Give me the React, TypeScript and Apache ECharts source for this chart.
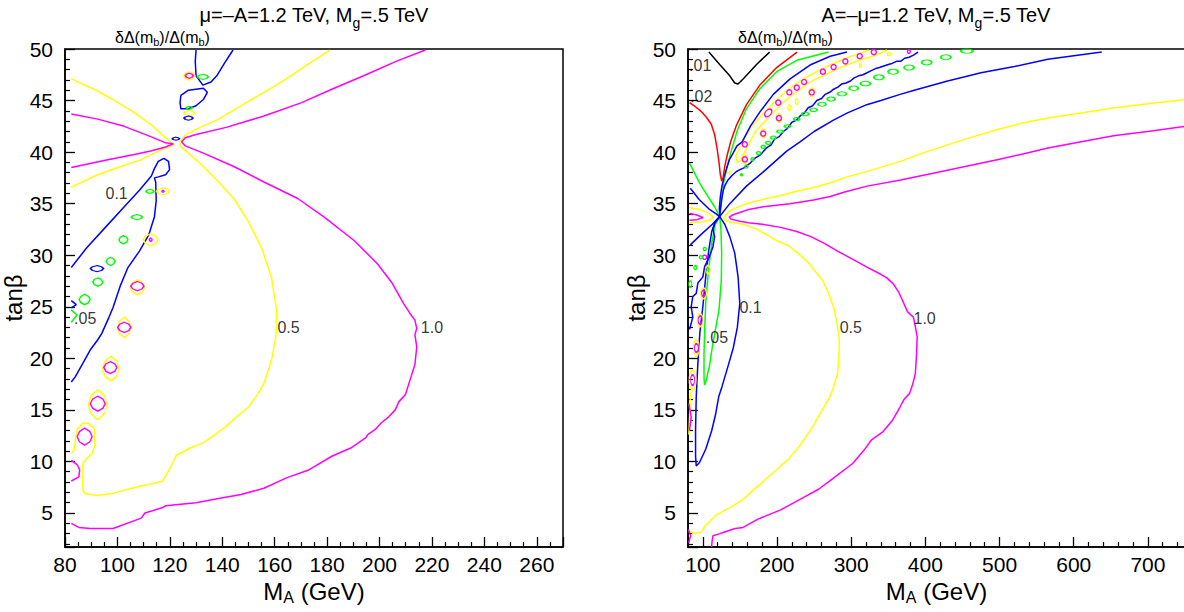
import React, { useEffect, useRef } from "react";
import * as echarts from "echarts";

const FONT = "'Liberation Sans', Arial, Helvetica, sans-serif";

// ---------- axes ----------
const Y_MIN = 1.7;
const Y_MAX = 50;
const LX_MIN = 80;
const LX_MAX = 270;
const RX_MIN = 80;
const RX_MAX = 750;

// ---------- texts ----------
const LEFT_TITLE = "μ=–A=1.2 TeV, M{s|g}=.5 TeV";
const RIGHT_TITLE = "A=–μ=1.2 TeV, M{s|g}=.5 TeV";
const Z_TITLE = "δΔ(m{s|b})/Δ(m{s|b})";
const X_NAME = "M{s|A} (GeV)";
const Y_NAME = "tanβ";

// ---------- LEFT PANEL contours [MA, tanβ] ----------
const L_YELLOW_LEFT = [[82.4,47.1],[91.1,46.1],[98.3,45.1],[105.5,44.0],[112.7,42.7],[117.0,41.7],[120.6,40.9],[121.6,40.8],[120.6,40.6],[115.6,40.1],[108.4,39.2],[101.2,38.6],[92.5,37.8],[82.4,36.6]];
const L_YELLOW_05 = [[181.1,49.9],[173.2,48.6],[164.5,47.1],[155.9,45.8],[147.2,44.5],[138.6,43.2],[130.0,42.2],[125.6,41.6],[123.9,41.0],[123.9,40.6],[127.1,39.9],[132.8,38.6],[138.6,37.1],[144.4,35.5],[150.1,33.2],[155.2,30.6],[158.8,27.8],[160.6,24.9],[160.9,23.1],[160.2,21.8],[159.1,20.2],[158.0,19.2],[155.9,17.6],[153.7,16.6],[150.1,15.3],[145.8,14.4],[141.5,13.4],[137.2,12.6],[132.8,11.8],[127.8,11.3],[122.5,10.6],[120.6,9.6],[117.3,8.1],[112.7,7.8],[106.9,7.5],[98.3,6.9],[92.5,6.7],[87.5,6.9],[86.8,7.3],[86.8,9.8],[87.9,10.2],[90.4,10.8],[91.4,11.6],[91.1,13.2],[88.9,13.7],[86.8,13.7],[84.6,13.1],[83.9,12.1],[83.6,11.1],[82.4,10.8]];
const L_MAGENTA_LEFT = [[82.4,43.7],[92.5,43.2],[102.6,42.5],[112.7,41.5],[118.4,40.9],[121.3,40.8],[118.4,40.5],[112.7,40.1],[106.9,39.8],[95.4,39.2],[82.4,38.5]];
const L_MAGENTA_10 = [[217.5,49.9],[206.3,48.8],[194.8,47.5],[181.8,46.1],[170.3,44.8],[155.9,43.5],[141.5,42.4],[130.0,41.7],[125.9,41.4],[124.5,41.0],[125.9,40.6],[132.8,39.9],[144.4,38.6],[155.9,37.1],[168.8,35.5],[178.9,33.7],[190.4,31.4],[199.1,29.2],[204.8,27.3],[209.2,25.3],[211.5,24.4],[213.5,23.7],[214.2,22.9],[213.5,22.3],[214.2,21.1],[213.5,19.4],[212.0,18.2],[209.9,16.5],[207.4,15.8],[206.0,15.0],[203.4,14.3],[200.5,13.7],[198.4,13.1],[195.5,12.6],[194.8,12.3],[189.0,11.3],[181.8,10.5],[173.2,9.2],[164.5,8.4],[155.9,7.4],[147.2,6.8],[138.6,6.4],[130.0,6.0],[118.4,5.7],[117.0,5.5],[110.5,5.0],[109.1,4.5],[98.3,3.5],[89.6,3.5],[85.3,3.6],[82.4,4.0]];
const L_MAGENTA_EDGE = [[82.4,10.1],[84.6,9.7],[85.6,9.2],[85.3,8.5],[82.4,8.1]];
const L_BLUE_TOP = [[130.0,49.9],[129.7,48.8],[130.0,47.4],[132.6,46.5],[135.7,46.8],[137.9,47.4],[140.8,48.6],[144.1,49.9]];
const L_BLUE_LOOP = [[124.2,45.5],[127.1,46.0],[132.8,46.2],[134.3,45.8],[132.8,45.1],[130.0,44.5],[127.1,44.2],[124.2,44.2],[123.9,44.8],[124.2,45.5]];
const L_BLUE_01 = [[82.4,28.8],[88.2,30.7],[95.4,32.7],[102.6,34.7],[108.4,36.3],[112.0,37.4],[113.0,37.7],[114.1,38.4],[115.6,39.1],[117.7,39.4],[119.5,39.1],[119.9,38.3],[118.4,37.8],[115.6,37.6],[114.1,37.5],[114.6,37.1],[114.8,35.3],[114.1,33.7],[112.0,32.0],[108.4,30.4],[104.0,28.8],[101.2,27.1],[98.3,24.9],[96.8,24.0],[94.0,22.4],[92.5,21.8],[89.6,20.8],[86.8,19.5],[83.9,18.2],[82.4,17.7]];
const L_BLUE_EDGE = [[82.4,25.6],[84.3,25.2],[82.4,24.9]];
const L_GREEN_EDGE = [[82.4,24.7],[84.6,24.2],[82.4,23.5]];

// small closed contours: [MA, tanβ, width(GeV), height(tanβ)]
const L_MAGENTA_ISLANDS = [[87.5,12.4,5.7,1.65],[92.5,15.6,5.7,1.45],[97.3,19.1,5.0,1.15],[102.6,23.0,5.0,1.0],[107.6,27.0,5.0,0.9],[112.7,31.5,1.1,0.3],[117.4,36.2,0.8,0.2],[127.4,47.4,3.0,0.5]];
const L_YELLOW_ISLANDS = [[92.5,15.5,7.3,2.9],[97.5,19.0,6.5,2.4],[102.6,23.0,5.3,1.95],[107.6,26.9,5.7,1.45],[112.7,31.5,5.7,1.15],[117.4,36.2,5.0,0.7],[127.4,47.4,4.2,0.8],[127.4,43.8,4.2,0.5]];
const L_GREEN_ISLANDS = [[132.6,47.3,4.2,0.5],[127.4,44.3,2.3,0.3],[112.4,36.2,3.0,0.4],[107.4,33.7,4.2,0.5],[102.3,31.5,3.4,0.8],[97.4,29.4,3.4,0.8],[92.5,27.4,3.8,0.8],[87.5,25.7,4.2,1.0]];
const L_BLUE_ISLANDS = [[127.1,43.3,3.4,0.4],[122.3,41.3,2.7,0.3],[92.2,28.7,5.0,0.6]];

const L_LABELS = [["0.1",99.7,35.95],[".05",87.7,23.9],["0.5",165.3,23.0],["1.0",220.0,23.0]];

// ---------- RIGHT PANEL contours ----------
const R_BLACK = [[108.2,49.7],[122.7,48.5],[136.3,47.4],[143.0,46.7],[147.5,46.6],[154.3,47.1],[172.4,48.5],[190.0,49.7]];
const R_RED = [[82.0,44.8],[90.0,44.4],[97.0,44.0],[104.6,43.4],[111.4,42.7],[115.9,41.7],[119.1,40.4],[121.8,39.0],[123.6,37.8],[125.5,37.2],[127.3,37.5],[129.5,38.6],[132.5,39.6],[137.5,41.0],[145.3,42.6],[158.8,44.6],[176.9,46.5],[199.5,48.2],[227.0,49.7]];
const R_GREEN = [[82.1,38.9],[86.5,38.3],[95.6,37.0],[106.9,35.7],[115.9,34.7],[122.7,33.75],[124.4,32.5],[125.4,30.2],[124.9,27.6],[121.8,24.7],[117.3,22.9],[113.0,21.2],[109.0,19.3],[105.0,18.0],[102.4,17.4],[101.6,18.0],[101.6,20.5],[102.6,23.0],[104.0,25.5],[107.8,28.6],[112.3,31.3],[116.8,33.0],[122.7,33.75],[125.0,35.0],[128.0,37.0],[132.8,38.6],[138.5,40.15],[146.4,42.1],[158.8,44.2],[177.0,46.15],[199.5,47.8],[226.6,48.9],[269.5,49.7]];
const R_BLUE_01 = [[83.1,36.5],[95.0,35.4],[108.0,34.5],[117.9,34.0],[122.7,33.75],[129.5,33.0],[136.3,31.8],[143.0,30.2],[147.5,27.9],[149.8,25.3],[146.5,23.0],[141.0,21.0],[133.0,19.0],[126.0,17.3],[121.5,16.3],[117.0,14.5],[112.0,13.0],[104.0,11.2],[95.5,9.9],[91.1,9.55],[90.2,10.5],[90.2,13.0],[91.1,16.3],[93.3,19.5],[96.0,22.5],[100.0,25.0],[104.0,28.0],[108.0,30.5],[112.0,32.3],[117.0,33.3],[122.7,33.75],[136.3,35.0],[158.8,36.7],[185.0,38.3],[213.0,40.1],[231.0,41.0],[250.0,42.0],[276.0,43.1],[295.0,43.8],[321.0,44.6],[340.0,45.0],[366.0,45.6],[385.0,46.0],[430.0,46.9],[475.0,47.7],[520.0,48.3],[565.0,49.0],[637.8,49.7]];
const R_BLUE_2 = [[83.1,31.0],[97.4,32.0],[112.8,33.0],[122.7,33.75],[122.3,34.6],[123.5,35.6],[125.5,36.6],[128.5,37.6],[132.0,38.4],[136.0,39.3],[140.8,39.9],[146.0,40.6],[153.0,41.0],[164.0,42.5],[177.0,43.9],[195.0,45.6],[217.6,47.1],[246.0,48.5],[271.7,49.3],[294.3,49.7]];
const R_BLUE_3 = [[122.7,33.75],[115.9,33.1],[113.6,32.5],[115.9,31.8],[113.6,30.8],[109.1,29.9],[102.4,28.9],[100.1,27.9],[93.3,27.3],[91.1,26.3],[86.5,26.0],[84.3,25.0],[86.5,24.0],[82.0,22.8]];
const R_BLUE_WIG = [[122.7,33.9],[124.9,35.2],[127.2,36.2],[130.0,36.8],[134.0,37.3],[139.0,37.7],[145.0,38.1],[150.0,38.3],[156.0,38.5],[163.3,38.9],[170.0,39.4],[177.0,39.7],[185.9,40.4],[192.0,40.7],[197.0,41.3],[203.0,41.5],[208.5,42.0],[214.0,42.3],[220.0,42.9],[226.0,43.1],[231.1,43.5],[237.0,43.8],[242.0,44.3],[248.0,44.5],[253.7,45.0],[260.0,45.2],[265.0,45.6],[271.0,45.8],[276.3,46.1],[282.0,46.3],[287.0,46.6],[293.0,46.7],[298.9,46.9],[304.0,47.2],[310.0,47.4],[316.0,47.5],[321.4,47.7],[327.0,47.9],[333.0,48.1],[338.0,48.2],[344.0,48.35],[350.0,48.5],[355.0,48.6],[361.0,48.8],[366.6,48.8],[372.0,49.1],[378.0,49.2],[384.0,49.4],[390.1,49.7]];
const R_YELLOW_BAND = [[323.7,49.9],[308.3,49.5],[288.9,49.0],[273.1,48.5],[258.7,48.0],[246.0,47.5],[233.4,47.0],[223.4,46.5],[213.5,46.0],[198.6,45.0],[185.0,44.0],[164.7,42.4],[153.4,41.0],[144.4,39.7],[146.5,39.0],[150.7,39.2],[159.7,40.5],[171.0,42.0],[191.4,43.6],[204.9,44.6],[219.8,45.5],[229.7,46.0],[239.7,46.6],[252.3,47.1],[265.0,47.5],[279.4,48.0],[295.2,48.5],[314.7,49.0],[333.6,49.4],[348.5,49.9]];
const R_YELLOW_05 = [[750.0,45.1],[700.0,44.7],[655.7,44.3],[610.0,43.8],[565.3,43.3],[530.0,42.8],[497.6,42.2],[465.0,41.5],[429.8,40.7],[400.0,40.0],[370.0,39.2],[330.0,38.3],[294.4,37.6],[271.6,37.0],[245.0,36.5],[226.5,36.2],[205.0,35.8],[185.9,35.5],[170.0,35.2],[158.8,35.0],[145.0,34.6],[136.3,34.3],[129.5,33.8],[127.5,33.6],[130.0,33.35],[138.0,33.2],[155.0,33.0],[170.0,32.6],[186.0,32.0],[200.0,31.4],[216.0,30.9],[228.0,30.2],[242.0,29.3],[252.0,28.4],[262.0,27.5],[270.0,26.2],[276.5,24.9],[281.6,23.1],[284.1,21.8],[283.5,20.2],[281.6,18.5],[276.5,17.3],[271.4,16.3],[261.1,15.0],[245.8,13.1],[230.4,11.5],[215.1,10.2],[194.6,8.9],[174.2,7.6],[153.7,6.3],[138.4,5.6],[117.9,4.8],[102.6,3.7],[97.4,3.1],[87.2,3.0],[81.1,3.3]];
const R_MAGENTA_10 = [[750.0,42.5],[700.0,42.0],[655.7,41.6],[610.0,41.0],[565.3,40.4],[530.0,39.8],[500.0,39.3],[460.0,38.7],[420.0,38.1],[366.6,37.3],[321.4,36.7],[290.0,36.1],[271.8,35.7],[249.2,35.35],[217.5,35.0],[181.4,34.7],[160.0,34.4],[149.8,34.15],[140.0,33.9],[135.5,33.7],[138.0,33.5],[150.0,33.3],[161.0,33.15],[180.0,33.0],[204.9,32.7],[226.6,32.3],[245.8,31.8],[265.0,31.1],[281.6,30.4],[307.2,29.4],[322.5,28.8],[336.0,28.3],[348.1,27.8],[357.0,27.2],[363.4,26.5],[368.0,25.8],[376.0,24.5],[383.9,24.0],[386.4,23.1],[389.0,22.1],[388.0,20.2],[386.4,18.5],[383.0,17.5],[378.8,16.6],[371.1,16.0],[366.0,15.3],[355.8,14.0],[343.0,12.9],[327.6,12.1],[317.4,11.1],[302.0,9.8],[276.5,8.4],[256.0,7.3],[230.4,6.3],[204.9,5.3],[174.2,4.4],[154.3,3.6],[143.5,3.5],[127.2,3.1],[123.0,3.0],[113.8,2.8],[112.5,2.3],[111.8,1.7]];
const R_YELLOW_LEFT = [[82.0,34.6],[95.6,34.45],[104.0,34.2],[109.1,34.0],[114.5,33.7],[109.1,33.4],[100.0,33.25],[92.0,33.2],[82.0,33.15]];
const R_MAGENTA_LEFT = [[82.0,34.05],[92.0,33.9],[100.5,33.65],[92.0,33.45],[82.0,33.4]];
const R_MAGENTA_EDGE1 = [[81.1,15.6],[84.3,14.3],[82.0,13.0]];
const R_MAGENTA_EDGE2 = [[80.5,3.4],[83.5,2.8],[81.0,2.1]];
const R_YELLOW_EDGE = [[81.2,12.6],[82.3,14.5],[83.0,16.0],[83.6,16.7]];

const R_MAGENTA_RINGS = [[102.4,29.8,5.4,0.4],[101.0,26.3,5.4,0.6],[96.4,23.7,5.4,0.8],[91.3,21.0,5.4,0.8],[86.2,17.9,5.4,1.0],[156.6,40.75,6.8,0.5],[201.7,44.8,6.8,0.5],[216.6,45.8,6.8,0.5],[226.6,46.25,6.8,0.5],[236.5,46.8,6.8,0.5],[261.8,47.8,6.8,0.5],[276.3,48.25,6.8,0.5],[292.1,48.8,6.8,0.5],[311.5,49.3,6.8,0.5],[330.5,49.7,6.8,0.5],[156.6,39.3,6.8,0.5],[181.4,41.8,6.8,0.5],[202.6,43.3,6.8,0.5],[246.9,45.8,6.8,0.5],[377.7,49.75,4.0,0.35]];
const R_MAGENTA_OVAL = [[188.2,43.8,12.0,0.55]];
const R_YELLOW_RINGS = [[101.0,26.3,8.0,1.0],[96.4,23.7,8.0,1.2],[91.3,21.0,8.0,1.55],[86.2,17.9,9.5,1.9],[106.9,28.6,5.4,0.8],[156.6,39.3,8.0,0.8],[181.4,41.8,8.0,0.8],[202.6,43.3,8.0,0.8],[246.9,45.8,8.0,0.8],[137.0,38.0,3.0,0.3],[216.6,44.3,4.0,0.5],[226.6,44.9,4.0,0.5],[312.4,48.4,3.0,0.3],[351.0,49.5,4.0,0.3]];
const R_GREEN_DOTS = [[152.1,37.8,2.7,0.2],[158.8,38.6,4.0,0.3],[167.0,39.3,4.0,0.3],[175.1,39.9,5.4,0.3],[181.4,40.5,5.4,0.3],[188.2,40.9,6.8,0.3],[195.0,41.4,6.8,0.3],[204.0,42.0,8.1,0.3],[214.0,42.5,8.1,0.3],[226.6,43.2,8.1,0.3],[237.9,43.7,9.5,0.34],[249.2,44.1,9.5,0.34],[260.5,44.65,10.8,0.39],[273.0,45.15,10.8,0.39],[287.6,45.65,12.2,0.39],[303.4,46.2,12.2,0.44],[319.2,46.65,13.5,0.44],[337.3,47.25,13.5,0.48],[356.5,47.8,13.5,0.48],[378.0,48.2,13.5,0.48],[401.8,48.7,13.5,0.48],[427.6,49.2,13.5,0.48],[456.0,49.8,16.0,0.4],[83.1,27.2,4.0,0.6],[89.8,28.8,4.0,0.4],[97.4,29.8,4.0,0.3],[102.6,30.6,4.0,0.3]];

const R_LABELS = [[".01",96.5,48.4],[".02",97.9,45.4],["0.1",164.3,24.95],[".05",119.0,22.0],["0.5",299.5,23.0],["1.0",399.0,23.9]];

// ---------- layout ----------
const GRID_TOP = 49;
const GRID_H = 498;
const GRIDS = [
  { left: 65, width: 498 },
  { left: 688, width: 497 },
];
const KX = [GRIDS[0].width / (LX_MAX - LX_MIN), GRIDS[1].width / (RX_MAX - RX_MIN)];
const KY = GRID_H / (Y_MAX - Y_MIN);

const C = {
  magenta: "#ff00ff",
  yellow: "#ffff00",
  blue: "#0000ff",
  green: "#00ff00",
  red: "#ff0000",
  black: "#000000",
};

const HEX = "path://M0,-10L7,-6L10,0L7,6L0,10L-7,6L-10,0L-7,-6Z";

function lineS(data: number[][], color: string, g: number) {
  return {
    type: "line",
    data,
    xAxisIndex: g,
    yAxisIndex: g,
    symbol: "none",
    showSymbol: false,
    smooth: false,
    clip: true,
    silent: true,
    lineStyle: { color, width: 1.5 },
    z: 3,
  };
}

function islandS(data: number[][], color: string, g: number, symbol: string, rotate = 0) {
  return {
    type: "scatter",
    data,
    xAxisIndex: g,
    yAxisIndex: g,
    symbol,
    symbolRotate: rotate,
    symbolSize: (v: number[]) => [Math.max(1.5, v[2] * KX[g]), Math.max(1.5, v[3] * KY)],
    itemStyle: { color: "rgba(0,0,0,0)", borderColor: color, borderWidth: 1.4, opacity: 1 },
    silent: true,
    clip: true,
    z: 4,
  };
}

function labelS(items: (string | number)[][], g: number) {
  return {
    type: "scatter",
    xAxisIndex: g,
    yAxisIndex: g,
    symbolSize: 1,
    itemStyle: { color: "rgba(0,0,0,0)" },
    silent: true,
    z: 6,
    data: items.map((it) => ({ name: it[0], value: [it[1], it[2]] })),
    label: {
      show: true,
      position: "inside",
      formatter: "{b}",
      fontSize: 16,
      color: "#000",
      fontFamily: FONT,
    },
  };
}

function xAxisOf(g: number, min: number, max: number, split: number, minorSplit: number, fmt: (v: number) => string) {
  return {
    type: "value",
    gridIndex: g,
    min,
    max,
    splitNumber: split,
    name: X_NAME,
    nameLocation: "middle",
    nameGap: 29,
    nameTextStyle: {
      fontSize: 24,
      color: "#000",
      fontFamily: FONT,
      rich: { s: { fontSize: 16, color: "#000", fontFamily: FONT, padding: [12, 0, 0, 0] } },
    },
    axisLine: { show: true, onZero: false, lineStyle: { color: "#000", width: 1.5 } },
    axisTick: { show: true, inside: true, length: 10, lineStyle: { color: "#000", width: 1.3 } },
    minorTick: { show: true, splitNumber: minorSplit, length: 5, lineStyle: { color: "#000", width: 1.2 } },
    axisLabel: { show: true, color: "#000", fontSize: 21, fontFamily: FONT, margin: 7, formatter: fmt },
    splitLine: { show: false },
    minorSplitLine: { show: false },
  };
}

function yAxisOf(g: number) {
  return {
    type: "value",
    gridIndex: g,
    min: Y_MIN,
    max: Y_MAX,
    splitNumber: 10,
    name: Y_NAME,
    nameLocation: "middle",
    nameGap: 33,
    nameTextStyle: { fontSize: 24, color: "#000", fontFamily: FONT },
    axisLine: { show: true, onZero: false, lineStyle: { color: "#000", width: 1.5 } },
    axisTick: { show: true, inside: true, length: 10, lineStyle: { color: "#000", width: 1.3 } },
    minorTick: { show: true, splitNumber: 5, length: 5, lineStyle: { color: "#000", width: 1.2 } },
    axisLabel: {
      show: true,
      color: "#000",
      fontSize: 21,
      fontFamily: FONT,
      margin: 12,
      formatter: (v: number) => (Math.abs(v % 5) < 1e-9 ? String(v) : ""),
    },
    splitLine: { show: false },
    minorSplitLine: { show: false },
  };
}

function titleText(x: number, y: number, text: string, size: number, sub: number, pad: number, align: string) {
  return {
    type: "text",
    x,
    y,
    silent: true,
    style: {
      text,
      fill: "#000",
      fontSize: size,
      fontFamily: FONT,
      align,
      verticalAlign: "middle",
      rich: {
        s: { fontSize: sub, fontFamily: FONT, fill: "#000", color: "#000", padding: [pad, 0, 0, 0] },
      },
    },
  };
}

export default function App() {
  const ref = useRef<HTMLDivElement>(null);

  useEffect(() => {
    if (!ref.current) return;
    const chart = echarts.init(ref.current, null, { renderer: "svg" });

    const option: any = {
      animation: false,
      backgroundColor: "#ffffff",
      grid: GRIDS.map((g) => ({
        left: g.left,
        top: GRID_TOP,
        width: g.width,
        height: GRID_H,
        show: true,
        borderColor: "#000",
        borderWidth: 1.5,
        backgroundColor: "transparent",
        containLabel: false,
        outerBoundsMode: "none",
      })),
      xAxis: [
        xAxisOf(0, LX_MIN, LX_MAX, 9, 4, (v: number) => (v % 20 === 0 && v <= 260 ? String(v) : "")),
        xAxisOf(1, RX_MIN, RX_MAX, 7, 5, (v: number) => (v % 100 === 0 ? String(v) : "")),
      ],
      yAxis: [yAxisOf(0), yAxisOf(1)],
      graphic: [
        titleText(314, 15, LEFT_TITLE, 20, 14, 16, "center"),
        titleText(936, 15, RIGHT_TITLE, 20, 14, 16, "center"),
        titleText(115, 37, Z_TITLE, 16, 11, 9, "left"),
        titleText(738, 37, Z_TITLE, 16, 11, 9, "left"),
      ],
      series: [
        // left panel
        lineS(L_YELLOW_LEFT, C.yellow, 0),
        lineS(L_YELLOW_05, C.yellow, 0),
        lineS(L_MAGENTA_LEFT, C.magenta, 0),
        lineS(L_MAGENTA_10, C.magenta, 0),
        lineS(L_MAGENTA_EDGE, C.magenta, 0),
        lineS(L_BLUE_TOP, C.blue, 0),
        lineS(L_BLUE_LOOP, C.blue, 0),
        lineS(L_BLUE_01, C.blue, 0),
        lineS(L_BLUE_EDGE, C.blue, 0),
        lineS(L_GREEN_EDGE, C.green, 0),
        islandS(L_YELLOW_ISLANDS, C.yellow, 0, HEX),
        islandS(L_MAGENTA_ISLANDS, C.magenta, 0, HEX),
        islandS(L_GREEN_ISLANDS, C.green, 0, HEX),
        islandS(L_BLUE_ISLANDS, C.blue, 0, HEX),
        labelS(L_LABELS, 0),
        // right panel
        lineS(R_YELLOW_05, C.yellow, 1),
        lineS(R_MAGENTA_10, C.magenta, 1),
        lineS(R_YELLOW_LEFT, C.yellow, 1),
        lineS(R_MAGENTA_LEFT, C.magenta, 1),
        lineS(R_YELLOW_BAND, C.yellow, 1),
        lineS(R_YELLOW_EDGE, C.yellow, 1),
        lineS(R_MAGENTA_EDGE1, C.magenta, 1),
        lineS(R_MAGENTA_EDGE2, C.magenta, 1),
        lineS(R_GREEN, C.green, 1),
        lineS(R_BLUE_01, C.blue, 1),
        lineS(R_BLUE_2, C.blue, 1),
        lineS(R_BLUE_3, C.blue, 1),
        lineS(R_BLUE_WIG, C.blue, 1),
        lineS(R_RED, C.red, 1),
        lineS(R_BLACK, C.black, 1),
        islandS(R_YELLOW_RINGS, C.yellow, 1, "circle"),
        islandS(R_MAGENTA_RINGS, C.magenta, 1, "circle"),
        islandS(R_MAGENTA_OVAL, C.magenta, 1, "circle", 50),
        islandS(R_GREEN_DOTS, C.green, 1, "circle"),
        labelS(R_LABELS, 1),
      ],
    };

    chart.setOption(option);
    return () => chart.dispose();
  }, []);

  return (
    <div
      ref={ref}
      style={{ position: "absolute", left: 0, top: 0, width: 1184, height: 612, background: "#fff" }}
    />
  );
}
